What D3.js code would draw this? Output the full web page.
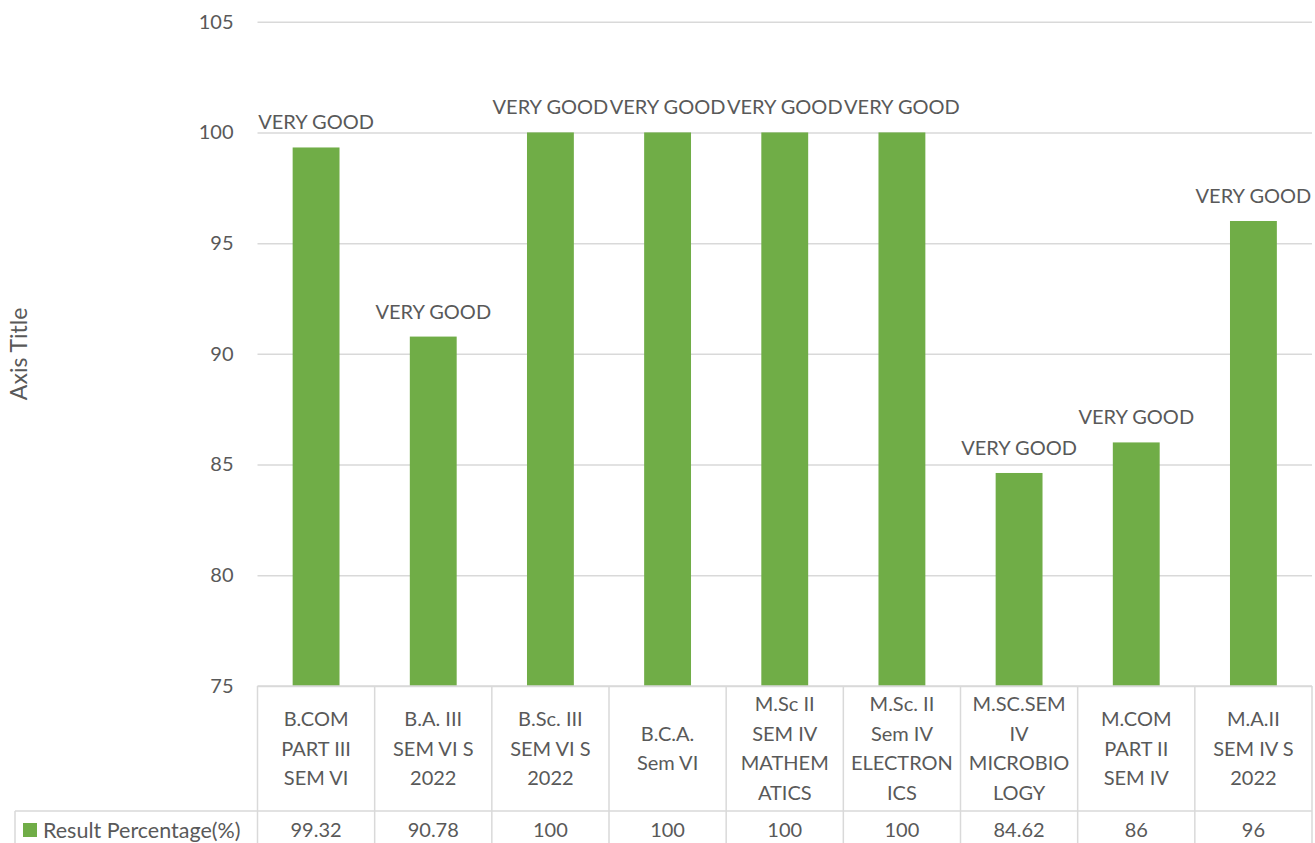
<!DOCTYPE html>
<html>
<head>
<meta charset="utf-8">
<script src="https://cdn.jsdelivr.net/npm/d3@7"></script>
<style>
  html, body { margin: 0; padding: 0; background: #fff; }
  svg { display: block; font-family: Lato, "Open Sans", sans-serif; }
</style>
</head>
<body>
<svg id="chart" width="1315" height="843"></svg>
<script>
const categories = [
  "B.COM\nPART III\nSEM VI",
  "B.A. III\nSEM VI S\n2022",
  "B.Sc. III\nSEM VI S\n2022",
  "B.C.A.\nSem VI",
  "M.Sc II\nSEM IV\nMATHEM\nATICS",
  "M.Sc. II\nSem IV\nELECTRON\nICS",
  "M.SC.SEM\nIV\nMICROBIO\nLOGY",
  "M.COM\nPART II\nSEM IV",
  "M.A.II\nSEM IV S\n2022"
];
const values = [99.32, 90.78, 100, 100, 100, 100, 84.62, 86, 96];
const valueLabels = ["99.32", "90.78", "100", "100", "100", "100", "84.62", "86", "96"];
const dataLabels = ["VERY GOOD","VERY GOOD","VERY GOOD","VERY GOOD","VERY GOOD","VERY GOOD","VERY GOOD","VERY GOOD","VERY GOOD"];
const yTicks = [75, 80, 85, 90, 95, 100, 105];
const seriesName = "Result Percentage(%)";
const axisTitle = "Axis Title";

const svg = d3.select("#chart");
const textColor = "#595959";
const gridColor = "#d9d9d9";
const barColor = "#70ad47";
const fontSize = 20;

const plotLeft = 257.5, plotRight = 1312, plotTop = 21.7, plotBottom = 686;
const tableRowY = 811, tableBottom = 860, legendLeft = 15;

const x = d3.scaleBand().domain(categories).range([plotLeft, plotRight]).padding(0);
const y = d3.scaleLinear().domain([75, 105]).range([plotBottom, plotTop]);
const barW = x.bandwidth() * 0.4;

// gridlines
const grid = svg.append("g")
  .attr("transform", `translate(${plotLeft},0)`)
  .call(d3.axisLeft(y).tickValues(yTicks).tickSize(-(plotRight - plotLeft)).tickFormat(""));
grid.select(".domain").remove();
grid.selectAll(".tick line").attr("stroke", gridColor).attr("stroke-width", 1.5);

// y tick labels
const yAxis = svg.append("g")
  .attr("transform", `translate(${plotLeft - 24},0)`)
  .call(d3.axisLeft(y).tickValues(yTicks).tickSize(0).tickPadding(0));
yAxis.select(".domain").remove();
yAxis.selectAll("text")
  .attr("fill", textColor)
  .style("font-size", fontSize + "px")
  .style("font-family", "Lato, 'Open Sans', sans-serif");

// bars
svg.append("g").selectAll("rect").data(values).enter().append("rect")
  .attr("x", (d, i) => x(categories[i]) + (x.bandwidth() - barW) / 2)
  .attr("y", d => y(d))
  .attr("width", barW)
  .attr("height", d => y(75) - y(d))
  .attr("fill", barColor);

// data labels
svg.append("g").selectAll("text").data(values).enter().append("text")
  .attr("x", (d, i) => x(categories[i]) + x.bandwidth() / 2)
  .attr("y", d => y(d) - 18)
  .attr("text-anchor", "middle")
  .attr("fill", textColor)
  .style("font-size", fontSize + "px")
  .text((d, i) => dataLabels[i]);

// table lines
const tbl = svg.append("g").attr("stroke", gridColor).attr("stroke-width", 1.5);
tbl.append("line").attr("x1", plotLeft).attr("x2", plotRight).attr("y1", plotBottom).attr("y2", plotBottom);
tbl.append("line").attr("x1", legendLeft).attr("x2", plotRight).attr("y1", tableRowY).attr("y2", tableRowY);
tbl.append("line").attr("x1", legendLeft).attr("x2", legendLeft).attr("y1", tableRowY).attr("y2", tableBottom);
const bounds = categories.map(c => x(c)).concat([plotRight]);
tbl.selectAll("line.v").data(bounds).enter().append("line")
  .attr("x1", d => d).attr("x2", d => d)
  .attr("y1", plotBottom).attr("y2", tableBottom);

// category labels
const lineH = 29.5;
const catMid = (plotBottom + tableRowY) / 2;
categories.forEach(c => {
  const lines = c.split("\n");
  const t = svg.append("text")
    .attr("text-anchor", "middle")
    .attr("fill", textColor)
    .style("font-size", fontSize + "px");
  lines.forEach((ln, j) => {
    t.append("tspan")
      .attr("x", x(c) + x.bandwidth() / 2)
      .attr("y", catMid + (j - (lines.length - 1) / 2) * lineH)
      .attr("dy", "0.35em")
      .text(ln);
  });
});

// value row
svg.append("g").selectAll("text").data(valueLabels).enter().append("text")
  .attr("x", (d, i) => x(categories[i]) + x.bandwidth() / 2)
  .attr("y", 830)
  .attr("dy", "0.35em")
  .attr("text-anchor", "middle")
  .attr("fill", textColor)
  .style("font-size", fontSize + "px")
  .text(d => d);

// legend key
svg.append("rect").attr("x", 23).attr("y", 823).attr("width", 14).attr("height", 14).attr("fill", barColor);
svg.append("text").attr("x", 43).attr("y", 830).attr("dy", "0.35em")
  .attr("fill", textColor).style("font-size", "21.5px").text(seriesName);

// axis title
svg.append("text")
  .attr("transform", `translate(27,${(plotTop + plotBottom) / 2}) rotate(-90)`)
  .attr("text-anchor", "middle")
  .attr("fill", textColor)
  .style("font-size", "23px")
  .text(axisTitle);
</script>
</body>
</html>
